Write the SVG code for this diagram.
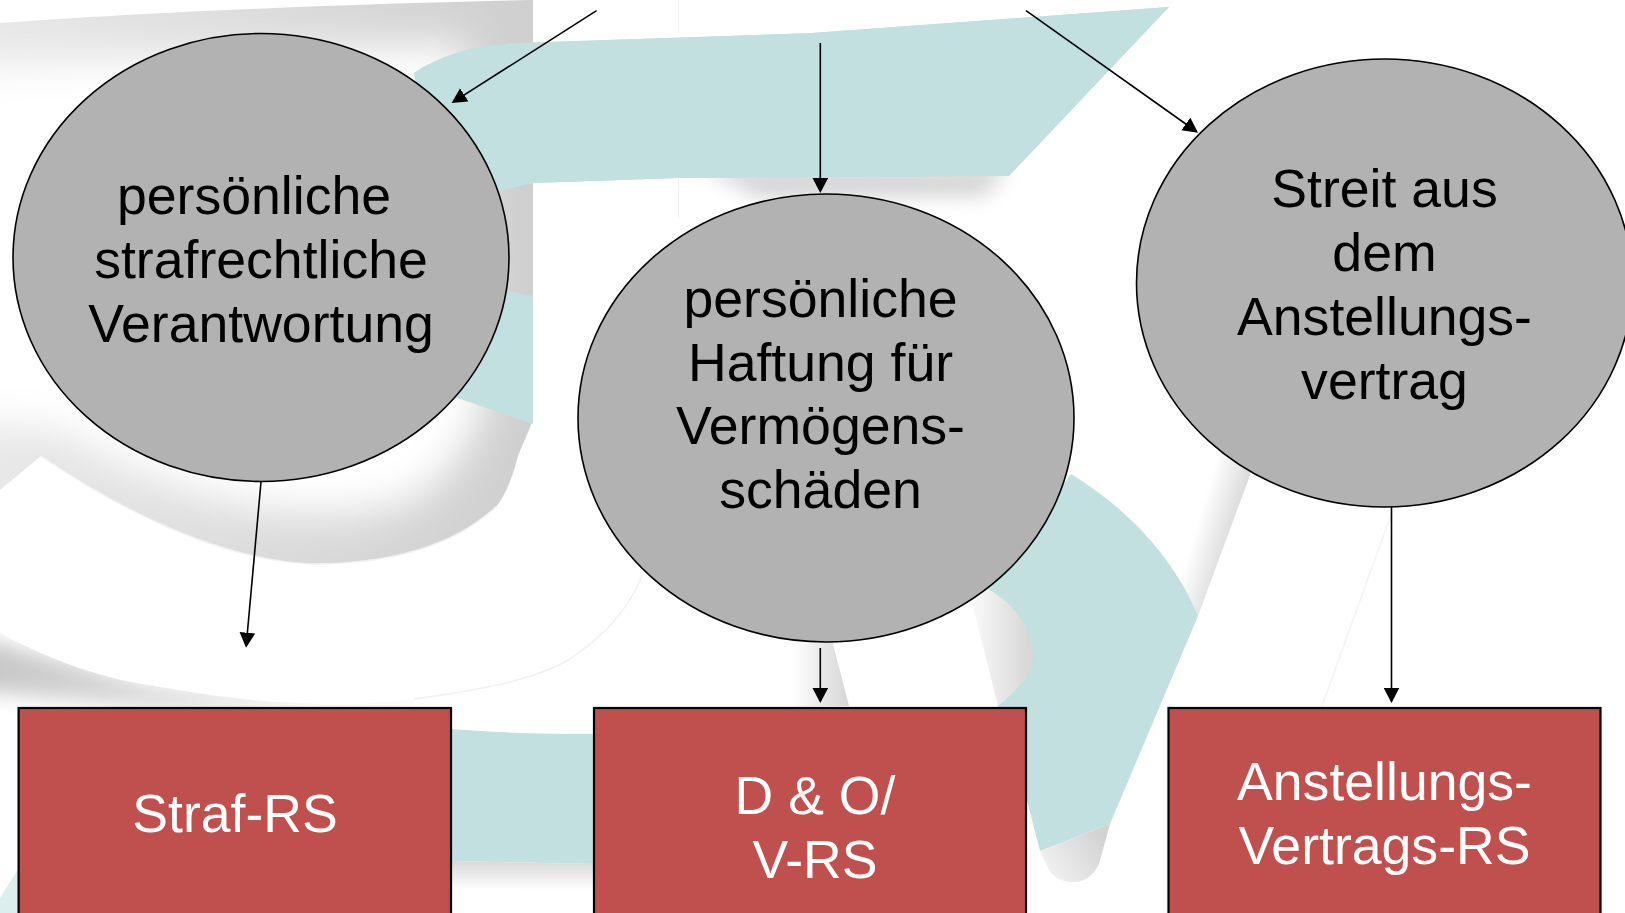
<svg xmlns="http://www.w3.org/2000/svg" width="1625" height="913" viewBox="0 0 1625 913">
<style>
.circle{fill:#b2b2b2;stroke:#000;stroke-width:1.6}
.box{fill:#c0504d;stroke:#000;stroke-width:2.2}
.dark,.light{font-family:"Liberation Sans",Arial,sans-serif;font-size:53.6px;text-anchor:middle}
.dark{fill:#000}
.light{fill:#fff}
.conn{stroke:#000;stroke-width:1.6;fill:none;marker-end:url(#arrow)}
.teal{fill:#c2e0e0}
</style>
<defs>
<marker id="arrow" markerUnits="userSpaceOnUse" markerWidth="16" markerHeight="16" refX="13" refY="8" orient="auto"><path d="M0,0.2 L15,8 L0,15.8 Z" fill="#000"/></marker>
<filter id="b20" x="-30%" y="-30%" width="160%" height="160%"><feGaussianBlur stdDeviation="20"/></filter>
<filter id="b10" x="-30%" y="-60%" width="160%" height="220%"><feGaussianBlur stdDeviation="10"/></filter>
<linearGradient id="gs" gradientUnits="userSpaceOnUse" x1="0" y1="0" x2="533" y2="0"><stop offset="0" stop-color="#e8e8e8"/><stop offset="1" stop-color="#cfcfcf"/></linearGradient>
<linearGradient id="gv" x1="0" x2="1" y1="0" y2="0"><stop offset="0" stop-color="#fff"/><stop offset="1" stop-color="#d6d6d6"/></linearGradient>
<linearGradient id="gr" gradientUnits="userSpaceOnUse" x1="1192" y1="540" x2="1236" y2="553"><stop offset="0" stop-color="#fff"/><stop offset="1" stop-color="#d2d2d2"/></linearGradient>
<linearGradient id="gd" x1="0" x2="0" y1="0" y2="1"><stop offset="0" stop-color="#d8d8d8"/><stop offset="1" stop-color="#fff"/></linearGradient>
<linearGradient id="gl" gradientUnits="userSpaceOnUse" x1="978" y1="650" x2="1030" y2="650"><stop offset="0" stop-color="#f6f6f6"/><stop offset="1" stop-color="#d6d6d6"/></linearGradient>
<linearGradient id="gt" gradientUnits="userSpaceOnUse" x1="1045" y1="880" x2="1105" y2="840"><stop offset="0" stop-color="#f4f4f4"/><stop offset="1" stop-color="#d2d2d2"/></linearGradient>
<linearGradient id="ga" gradientUnits="userSpaceOnUse" x1="0" y1="0" x2="340" y2="0"><stop offset="0" stop-color="#c8c8c8"/><stop offset="1" stop-color="#f0f0f0"/></linearGradient>
<clipPath id="sClip"><path d="M0,23 C150,12 350,4 533,0 L533,420 L518,456 C512,480 505,495 497,506 C450,550 380,564 311,564 C220,560 120,510 41,456 L0,490 Z"/></clipPath>
<clipPath id="arcClip"><path d="M0,633 C60,665 110,680 155,686 C220,698 280,704 337,704 C360,704 390,703 414,699 L414,760 L0,760 Z"/></clipPath>
<clipPath id="shadowClip"><rect x="678" y="176" width="400" height="50"/></clipPath>
</defs>
<g id="background">
<g clip-path="url(#sClip)">
<rect x="0" y="0" width="540" height="570" fill="url(#gs)"/>
<path d="M-60,68 C150,56 330,48 465,44 L485,400 C470,450 440,490 400,505 C300,530 170,500 60,430 L-60,420 Z" fill="#fff" filter="url(#b20)"/>
</g>
<path d="M41,456 C120,510 220,560 311,564 C380,564 450,550 497,506" fill="none" stroke="#f1f1f1" stroke-width="1.5"/>
<g clip-path="url(#arcClip)"><path d="M-30,635 L155,686 L337,704 L414,700 L400,712 L200,712 L-30,690 Z" fill="url(#ga)" filter="url(#b10)"/></g>
<path d="M414,699 C480,690 535,680 570,659 C605,635 628,610 642,576" fill="none" stroke="#f1f1f1" stroke-width="1.5"/>
<path class="teal" d="M414,73 C440,55 475,45 518,43 L812,33 L1169,7 L1009,176 L678,178 L533,183 L502,190 L440,200 Z"/>
<path class="teal" d="M490,288 L533,296 L533,424 L440,392 Z"/>
<g clip-path="url(#shadowClip)"><path d="M700,168 L1009,168 L985,196 L760,198 Z" fill="#d4d4d4" filter="url(#b10)"/></g>
<path class="teal" d="M414,73 C440,55 475,45 518,43 L812,33 L1169,7 L1009,176 L678,178 L533,183 L502,190 L440,200 Z"/>
<rect x="678" y="0" width="1" height="33" fill="#f4f4f4"/>
<rect x="678" y="178" width="1" height="40" fill="#f0f0f0"/>
<path d="M792,640 L832,640 L849,706 L792,706 Z" fill="url(#gv)"/>
<path d="M972,603 L998,706 L1050,706 L1050,590 L985,585 Z" fill="url(#gl)"/>
<path d="M1150,440 L1263,440 L1198,616 L1150,616 Z" fill="url(#gr)"/>
<path class="teal" d="M1071,474 C1130,510 1175,560 1198,616 L1110,824 L1040,851 L1024,789 L998,706 C1015,692 1036,672 1034,656 C1030,625 1015,605 988,589 Z"/>
<path d="M1040,851 L1110,824 L1099,864 C1092,878 1083,882 1073,882 C1060,882 1050,875 1047,866 Z" fill="url(#gt)"/>
<path d="M1392,512 L1322,706" fill="none" stroke="#f3f3f3" stroke-width="1.5"/>
<path class="teal" d="M451,729 C500,733 550,734 594,734 L594,864 L451,861 Z"/>
<path d="M451,861 L594,864 L594,890 L451,888 Z" fill="url(#gd)"/>
<path d="M0,898 L18,869 L18,913 L0,913 Z" fill="#dceeee"/>
</g>
<g id="connectors">
<path class="conn" d="M596.6,10.7 L453.3,101.9"/>
<path class="conn" d="M820.3,43 L820.3,191"/>
<path class="conn" d="M1026,10.7 L1196.4,131.5"/>
<path class="conn" d="M261,482 L246.2,645.7"/>
<path class="conn" d="M820.3,648 L820.3,701"/>
<path class="conn" d="M1391.5,507 L1391.5,701"/>
</g>
<g id="node-strafrechtlich">
<ellipse class="circle" cx="261" cy="257.5" rx="248" ry="224"/>
<text class="dark" x="254" y="214">persönliche</text>
<text class="dark" x="261" y="278">strafrechtliche</text>
<text class="dark" x="261" y="342">Verantwortung</text>
</g>
<g id="node-haftung">
<ellipse class="circle" cx="826" cy="418" rx="248" ry="224"/>
<text class="dark" x="820.5" y="316.5">persönliche</text>
<text class="dark" x="820.5" y="380.5">Haftung für</text>
<text class="dark" x="820.5" y="444">Vermögens-</text>
<text class="dark" x="820.5" y="508">schäden</text>
</g>
<g id="node-streit">
<ellipse class="circle" cx="1384.5" cy="283" rx="248" ry="224"/>
<text class="dark" x="1384.5" y="207">Streit aus</text>
<text class="dark" x="1384.5" y="271">dem</text>
<text class="dark" x="1384.5" y="335">Anstellungs-</text>
<text class="dark" x="1384.5" y="399">vertrag</text>
</g>
<g id="node-straf-rs">
<rect class="box" x="18.6" y="708" width="432.4" height="230"/>
<text class="light" x="235" y="832">Straf-RS</text>
</g>
<g id="node-do-rs">
<rect class="box" x="594" y="708" width="432" height="230"/>
<text class="light" x="815" y="814">D &amp; O/</text>
<text class="light" x="815" y="878">V-RS</text>
</g>
<g id="node-anstellung-rs">
<rect class="box" x="1168.5" y="708" width="432" height="230"/>
<text class="light" x="1384.5" y="800">Anstellungs-</text>
<text class="light" x="1384.5" y="864">Vertrags-RS</text>
</g>
</svg>
